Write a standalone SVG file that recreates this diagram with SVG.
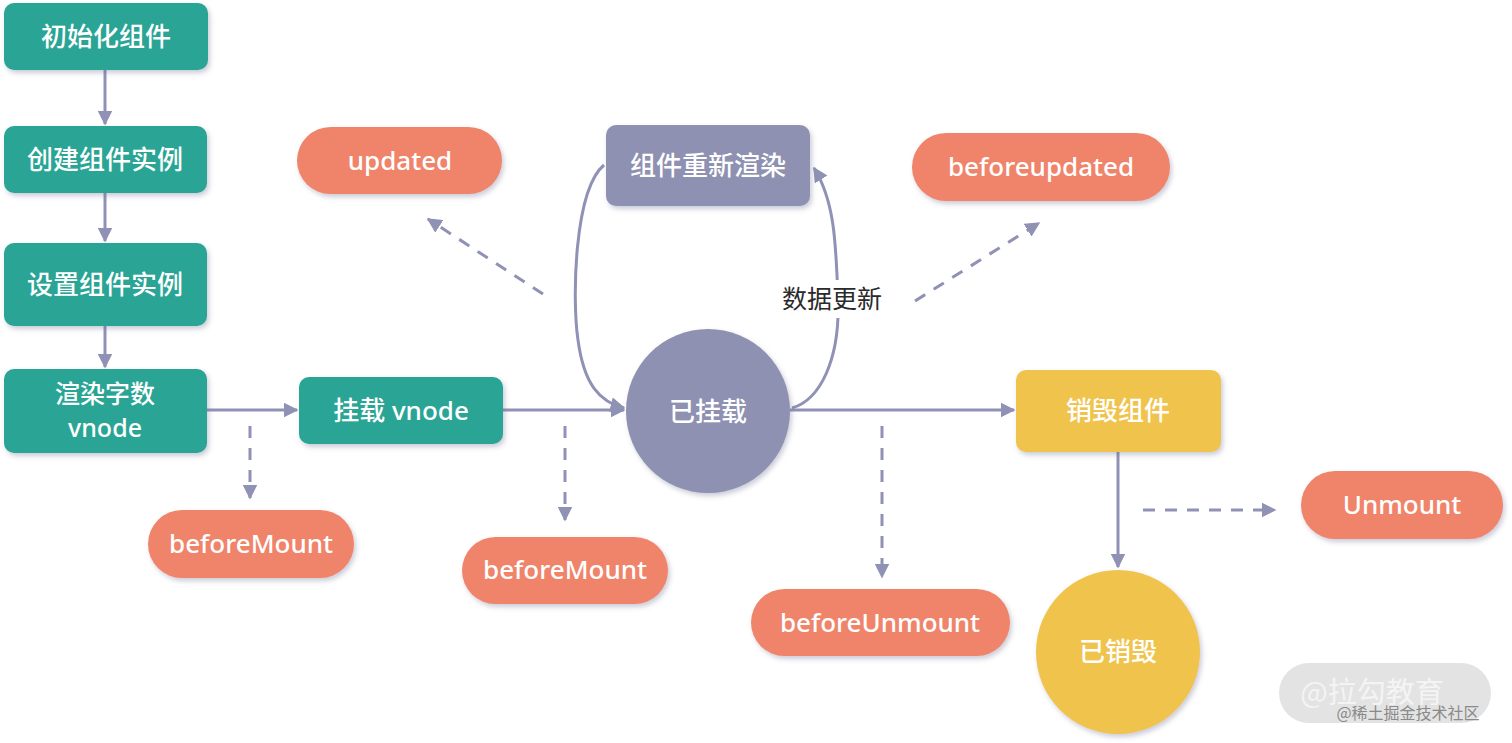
<svg xmlns="http://www.w3.org/2000/svg" width="1512" height="743" viewBox="0 0 1512 743">
<defs>
<filter id="sh" x="-20%" y="-20%" width="140%" height="150%">
<feDropShadow dx="2" dy="3" stdDeviation="2.5" flood-color="#6b6d90" flood-opacity="0.35"/>
</filter>
<marker id="ah" viewBox="0 0 10 10" refX="9" refY="5" markerWidth="5" markerHeight="5" orient="auto" markerUnits="strokeWidth">
<path d="M0,0 L10,5 L0,10 z" fill="#8f91b5"/>
</marker>
<style>
.teal{fill:#2aa595;}
.orange{fill:#f0846a;}
.purple{fill:#8e91b1;}
.yellow{fill:#f0c34d;}
.t{font-family:"Noto Sans","Noto Sans CJK SC",sans-serif;font-size:26px;font-weight:500;fill:#ffffff;text-anchor:middle;dominant-baseline:central;}
.lbl{font-family:"Noto Sans","Noto Sans CJK SC",sans-serif;font-size:25px;font-weight:400;fill:#2a2a2a;text-anchor:middle;dominant-baseline:central;}
.c{fill:none;stroke:#8f91b5;stroke-width:3;}
.d{fill:none;stroke:#8f91b5;stroke-width:3;stroke-dasharray:12 10;}
</style>
</defs>
<rect width="1512" height="743" fill="#ffffff"/>

<g id="connectors">
<line class="c" x1="105" y1="70" x2="105" y2="124" marker-end="url(#ah)"/>
<line class="c" x1="105" y1="193" x2="105" y2="241" marker-end="url(#ah)"/>
<line class="c" x1="105" y1="326" x2="105" y2="367" marker-end="url(#ah)"/>
<line class="c" x1="207" y1="410" x2="297" y2="410" marker-end="url(#ah)"/>
<line class="c" x1="503" y1="410" x2="624" y2="410" marker-end="url(#ah)"/>
<line class="c" x1="790" y1="410" x2="1014" y2="410" marker-end="url(#ah)"/>
<line class="c" x1="1118" y1="452" x2="1118" y2="567" marker-end="url(#ah)"/>
<path class="c" d="M604,165 C574,190 572,300 578,340 C584,385 600,402 624,408" marker-end="url(#ah)"/>
<path class="c" d="M792,408 C820,400 840,360 838,300 C836,240 834,200 814,168" marker-end="url(#ah)"/>
<line class="d" x1="250" y1="426" x2="250" y2="498" marker-end="url(#ah)"/>
<line class="d" x1="565" y1="426" x2="565" y2="520" marker-end="url(#ah)"/>
<line class="d" x1="882" y1="426" x2="882" y2="577" marker-end="url(#ah)"/>
<line class="d" x1="1143" y1="510" x2="1275" y2="510" marker-end="url(#ah)"/>
<line class="d" x1="543" y1="294" x2="428" y2="219" marker-end="url(#ah)"/>
<line class="d" x1="915" y1="301" x2="1039" y2="223" marker-end="url(#ah)"/>
<rect x="776" y="280" width="112" height="38" fill="#ffffff"/>
<text class="lbl" x="832" y="298">数据更新</text>
</g>

<g id="init"><rect class="teal" x="4" y="3" width="204" height="67" rx="10" filter="url(#sh)"/><text class="t" x="106" y="36">初始化组件</text></g>
<g id="create"><rect class="teal" x="4" y="126" width="203" height="67" rx="10" filter="url(#sh)"/><text class="t" x="105" y="159">创建组件实例</text></g>
<g id="setup"><rect class="teal" x="4" y="243" width="203" height="83" rx="10" filter="url(#sh)"/><text class="t" x="105" y="284">设置组件实例</text></g>
<g id="render"><rect class="teal" x="4" y="369" width="203" height="84" rx="10" filter="url(#sh)"/><text class="t" x="105" y="393" style="font-size:25px">渲染字数</text><text class="t" x="105" y="427" style="font-size:25px">vnode</text></g>
<g id="mountvnode"><rect class="teal" x="299" y="377" width="204" height="67" rx="10" filter="url(#sh)"/><text class="t" x="401" y="410">挂载 vnode</text></g>
<g id="mounted"><circle class="purple" cx="708" cy="411" r="82" filter="url(#sh)"/><text class="t" x="708" y="411">已挂载</text></g>
<g id="rerender"><rect class="purple" x="606" y="125" width="204" height="81" rx="10" filter="url(#sh)"/><text class="t" x="708" y="165">组件重新渲染</text></g>
<g id="destroy"><rect class="yellow" x="1016" y="370" width="205" height="82" rx="10" filter="url(#sh)"/><text class="t" x="1118" y="410">销毁组件</text></g>
<g id="destroyed"><circle class="yellow" cx="1118" cy="652" r="82" filter="url(#sh)"/><text class="t" x="1118" y="651">已销毁</text></g>

<g id="updated"><rect class="orange" x="297" y="127" width="205" height="67" rx="33.5" filter="url(#sh)"/><text class="t" x="400" y="160">updated</text></g>
<g id="beforeupdated"><rect class="orange" x="912" y="133" width="258" height="68" rx="34" filter="url(#sh)"/><text class="t" x="1041" y="166">beforeupdated</text></g>
<g id="beforeMount1"><rect class="orange" x="148" y="510" width="206" height="68" rx="34" filter="url(#sh)"/><text class="t" x="251" y="543">beforeMount</text></g>
<g id="beforeMount2"><rect class="orange" x="462" y="537" width="206" height="67" rx="33.5" filter="url(#sh)"/><text class="t" x="565" y="569">beforeMount</text></g>
<g id="beforeUnmount"><rect class="orange" x="751" y="589" width="259" height="67" rx="33.5" filter="url(#sh)"/><text class="t" x="880" y="622">beforeUnmount</text></g>
<g id="unmount"><rect class="orange" x="1301" y="471" width="202" height="68" rx="34" filter="url(#sh)"/><text class="t" x="1402" y="504">Unmount</text></g>

<g id="watermark">
<rect x="1279" y="663" width="212" height="60" rx="30" fill="#e3e3e3"/>
<text x="1372" y="690" font-family="Noto Sans CJK SC, sans-serif" font-size="29" fill="#f4f4f4" text-anchor="middle" dominant-baseline="central">@拉勾教育</text>
<text x="1408" y="712" font-family="Noto Sans CJK SC, sans-serif" font-size="16" fill="#8a8a8a" text-anchor="middle" dominant-baseline="central">@稀土掘金技术社区</text>
</g>
</svg>
